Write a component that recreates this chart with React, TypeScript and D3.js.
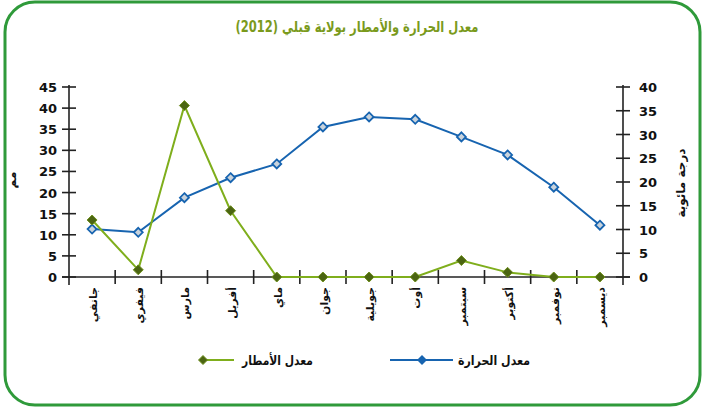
import * as d3 from 'd3';
import React from 'react';

// months (Tunisian names), rainfall (mm, left axis) and temperature (°C, right axis)
const months = ['جانفي', 'فيفري', 'مارس', 'أفريل', 'ماي', 'جوان', 'جويلية', 'أوت', 'سبتمبر', 'أكتوبر', 'نوفمبر', 'ديسمبر'];
const rain = [13.5, 1.7, 40.6, 15.7, 0, 0, 0, 0, 3.9, 1.1, 0, 0];
const temp = [10.1, 9.4, 16.7, 20.9, 23.8, 31.6, 33.7, 33.2, 29.5, 25.7, 18.9, 10.9];
const rainTicks = [0, 5, 10, 15, 20, 25, 30, 35, 40, 45];
const tempTicks = [0, 5, 10, 15, 20, 25, 30, 35, 40];

const title = 'معدل الحرارة والأمطار بولاية قبلي (2012)';
const rainLabel = 'معدل الأمطار';
const tempLabel = 'معدل الحرارة';
const leftTitle = 'مم';
const rightTitle = 'درجة مائوية';

const W = 705, H = 412;
const left = 69, right = 623, top = 87, bottom = 277;
const font = '"DejaVu Sans", sans-serif';

const blue = '#1764b0';
const green = '#7fae1c';
const darkGreen = '#4b6512';
const axisCol = '#222';

function diamond(cx: number, cy: number, r: number) {
  return `M${cx},${cy - r}L${cx + r},${cy}L${cx},${cy + r}L${cx - r},${cy}Z`;
}

export default function App() {
  const x = d3.scaleBand<string>().domain(months).range([left, right]);
  const yRain = d3.scaleLinear().domain([0, 45]).range([bottom, top]);
  const yTemp = d3.scaleLinear().domain([0, 40]).range([bottom, top]);
  const cx = (m: string) => (x(m) as number) + x.bandwidth() / 2;

  const rainLine = d3.line<number>().x((d, i) => cx(months[i])).y(d => yRain(d));
  const tempLine = d3.line<number>().x((d, i) => cx(months[i])).y(d => yTemp(d));

  const bandEdges = months.map(m => x(m) as number).concat([right]);

  return (
    <svg width={W} height={H} style={{ position: 'absolute', left: 0, top: 0, background: '#fff' }}>
      {/* frame */}
      <rect x={5} y={2} width={695} height={403} rx={30} fill="none" stroke="#2f9a3a" strokeWidth={3} />

      {/* title */}
      <text x={357} y={32} textAnchor="middle" fontFamily={font} fontWeight="bold" fontSize={15}
        fill="#7a9a1c" textLength={243} lengthAdjust="spacingAndGlyphs"
        style={{ direction: 'rtl' }}>{title}</text>

      {/* axes */}
      <g stroke={axisCol} strokeWidth={1.6}>
        <line x1={left} x2={left} y1={top - 2} y2={bottom + 8} />
        <line x1={right} x2={right} y1={top - 2} y2={bottom + 8} />
        <line x1={left - 7} x2={right + 7} y1={bottom} y2={bottom} />
        {rainTicks.map(t => (
          <line key={'l' + t} x1={left - 7} x2={left + 7} y1={yRain(t)} y2={yRain(t)} />
        ))}
        {tempTicks.map(t => (
          <line key={'r' + t} x1={right - 7} x2={right + 7} y1={yTemp(t)} y2={yTemp(t)} />
        ))}
        {bandEdges.slice(1, -1).map((e, i) => (
          <line key={'x' + i} x1={e} x2={e} y1={bottom - 7} y2={bottom + 7} />
        ))}
      </g>

      {/* tick labels */}
      <g fontFamily={font} fontWeight="bold" fontSize={13} fill="#111">
        {rainTicks.map(t => (
          <text key={'lt' + t} x={57} y={yRain(t) + 5} textAnchor="end">{t}</text>
        ))}
        {tempTicks.map(t => (
          <text key={'rt' + t} x={639} y={yTemp(t) + 5}>{t}</text>
        ))}
        {months.map(m => (
          <text key={m} transform={`translate(${cx(m) + 5},${bottom + 10}) rotate(-90)`}
            textAnchor="end" fontSize={11}>{m}</text>
        ))}
        <text transform={`translate(16,180) rotate(-90)`} textAnchor="middle" fontSize={12}>{leftTitle}</text>
        <text transform={`translate(685,183) rotate(-90)`} textAnchor="middle" fontSize={12}>{rightTitle}</text>
      </g>

      {/* temperature series */}
      <path d={tempLine(temp) as string} fill="none" stroke={blue} strokeWidth={2} />
      {temp.map((v, i) => (
        <path key={'tp' + i} d={diamond(cx(months[i]), yTemp(v), 4.5)} fill="#c9d3dc" stroke={blue} strokeWidth={1.8} />
      ))}

      {/* rainfall series */}
      <path d={rainLine(rain) as string} fill="none" stroke={green} strokeWidth={2} />
      {rain.map((v, i) => (
        <path key={'rp' + i} d={diamond(cx(months[i]), yRain(v), 5)} fill={darkGreen} stroke="#6e8f1c" strokeWidth={1} />
      ))}

      {/* legend */}
      <line x1={200} x2={234} y1={360} y2={360} stroke={green} strokeWidth={2} />
      <path d={diamond(203, 360, 4.5)} fill={darkGreen} stroke="#6e8f1c" strokeWidth={1} />
      <text x={242} y={365} fontFamily={font} fontWeight="bold" fontSize={13}
        fill="#111" textLength={71} lengthAdjust="spacingAndGlyphs">{rainLabel}</text>

      <line x1={390} x2={453} y1={360} y2={360} stroke={blue} strokeWidth={2} />
      <path d={diamond(422, 360, 5)} fill={blue} />
      <text x={458} y={365} fontFamily={font} fontWeight="bold" fontSize={13}
        fill="#111" textLength={72} lengthAdjust="spacingAndGlyphs">{tempLabel}</text>
    </svg>
  );
}
